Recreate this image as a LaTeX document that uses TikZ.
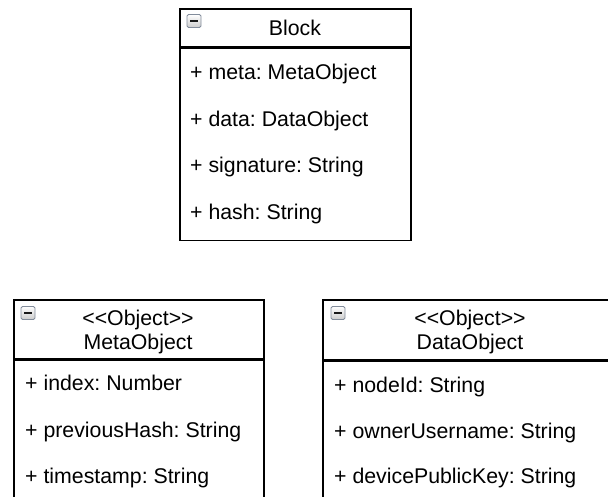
\documentclass[tikz,border=0pt]{standalone}
\usepackage{fontspec}
\setmainfont{Liberation Sans}[Ligatures=TeXOff]
\usepackage{tikz}
\definecolor{toggleedge}{RGB}{130,140,155}

\begin{document}
\begin{tikzpicture}[x=1pt,y=-1pt,
    classbox/.style={draw=black,line width=1.6pt,anchor=north west,inner sep=0pt},
    attr/.style={anchor=base west,inner sep=0pt},
    toggle/.style={draw=toggleedge,line width=0.9pt,rounded corners=1.5pt,top color=white,bottom color=gray!40,
      minimum width=14pt,minimum height=13pt,inner sep=0pt}]
	\useasboundingbox (0,0) rectangle (608,496);
	\clip (0,0) rectangle (608,496);
	\fontsize{21.3}{25}\selectfont\frenchspacing
	% Block
	\node[classbox,minimum width=231,minimum height=38] (block) at (179,8) {};
	\node[classbox,minimum width=231,minimum height=192] (blockbody) at (block.south west) {};
	\node[attr,anchor=base] (blocktitle) at (295,35) {Block};
	\node[toggle] (blocktoggle) at (194,21) {};
	\draw[line width=2pt,gray!20!black] ([xshift=-4pt]blocktoggle.center) -- ([xshift=4pt]blocktoggle.center);
	\foreach \y/\t in {79/meta: MetaObject,126/data: DataObject,172/signature: String,219/hash: String}
	  \node[attr] at (190,\y) {+ \t};
	% MetaObject
	\node[classbox,minimum width=250,minimum height=59] (meta) at (13,299) {};
	\node[classbox,minimum width=250,minimum height=200] (metabody) at (meta.south west) {};
	\node[attr,anchor=base] (metastereo) at (138,325) {<<Object>>};
	\node[attr,anchor=base] (metatitle) at (138,349) {MetaObject};
	\node[toggle] (metatoggle) at (28,313) {};
	\draw[line width=2pt,gray!20!black] ([xshift=-4pt]metatoggle.center) -- ([xshift=4pt]metatoggle.center);
	\foreach \y/\t in {390/index: Number,437/previousHash: String,483/timestamp: String}
	  \node[attr] at (25,\y) {+ \t};
	% DataObject
	\node[classbox,minimum width=296,minimum height=60] (data) at (322,299) {};
	\node[classbox,minimum width=296,minimum height=200] (databody) at (data.south west) {};
	\node[attr,anchor=base] (datastereo) at (470,325) {<<Object>>};
	\node[attr,anchor=base] (datatitle) at (470,349) {DataObject};
	\node[toggle] (datatoggle) at (338,313) {};
	\draw[line width=2pt,gray!20!black] ([xshift=-4pt]datatoggle.center) -- ([xshift=4pt]datatoggle.center);
	\foreach \y/\t in {392/nodeId: String,438/ownerUsername: String,483/devicePublicKey: String}
	  \node[attr] at (334,\y) {+ \t};
\end{tikzpicture}
\end{document}
